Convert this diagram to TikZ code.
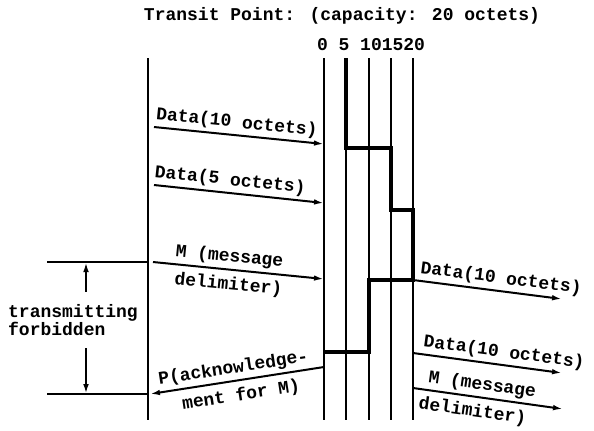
\documentclass[tikz,border=0pt]{standalone}
\usepackage{fontspec}
\setmainfont{Liberation Mono}
\usetikzlibrary{arrows.meta}

\begin{document}
\begin{tikzpicture}[x=0.5pt,y=-0.5pt,line width=1pt,
  every node/.style={font=\bfseries\fontsize{9}{9}\selectfont},
  msg/.style={-{Latex[length=5pt,width=2.8pt]}},
  lbl/.style={sloped,inner sep=1.5pt},
  lblb/.style={sloped,inner sep=3pt}]
\useasboundingbox (0,0) rectangle (594,430);
\node (T) at (342,16) {Transit Point: (capacity: 20 octets)};
\node[anchor=west,inner sep=0pt] (N) at (316,45) {0 5 101520};
\coordinate (LT) at (148,58);
\coordinate (LB) at (148,420);
\draw (LT)--(LB);
\foreach \x/\n in {324/a,346/b,369/c,391/d,413/e} {
  \coordinate (\n t) at (\x,58);
  \coordinate (\n b) at (\x,420);
  \draw (\n t)--(\n b);
}
\draw[line width=2pt] (bt) |- (391,148) |- (413,210) |- (369,280) |- (324,352);
\coordinate (s1) at (154,127);
\coordinate (r1) at (324,144);
\coordinate (s2) at (154,185);
\coordinate (r2) at (324,203);
\coordinate (s3) at (153,262);
\coordinate (r3) at (324,279);
\coordinate (s4) at (324,367);
\coordinate (r4) at (150,394);
\coordinate (s5) at (413,280);
\coordinate (r5) at (562,299);
\coordinate (s6) at (413,353);
\coordinate (r6) at (562,373);
\coordinate (s7) at (413,388);
\coordinate (r7) at (563,409);
\draw[msg] (s1)--(r1) node[lbl,above,pos=0.48] {Data(10 octets)};
\draw[msg] (s2)--(r2) node[lbl,above,pos=0.44] {Data(5 octets)};
\draw[msg] (s3)--(r3) node[lbl,above,pos=0.44] {M (message}
                      node[lblb,below,pos=0.45] {delimiter)};
\draw[msg] (s4)--(r4) node[lbl,above,pos=0.51] {P(acknowledge-}
                      node[lblb,below,pos=0.49] {ment for M)};
\draw[msg] (s5)--(r5) node[lbl,above,pos=0.58] {Data(10 octets)};
\draw[msg] (s6)--(r6) node[lbl,above,pos=0.6] {Data(10 octets)};
\draw[msg] (s7)--(r7) node[lbl,above,pos=0.45] {M (message}
                      node[lblb,below,pos=0.41] {delimiter)};
\coordinate (ft) at (86,262);
\coordinate (fb) at (86,394);
\draw (47,262)--(LT|-ft);
\draw (47,394)--(LT|-fb);
\node[align=left,outer sep=3pt] (F) at (73,320) {transmitting\\forbidden};
\draw[msg] (F.north-|ft)--(ft);
\draw[msg] (F.south-|fb)--(fb);
\end{tikzpicture}
\end{document}
